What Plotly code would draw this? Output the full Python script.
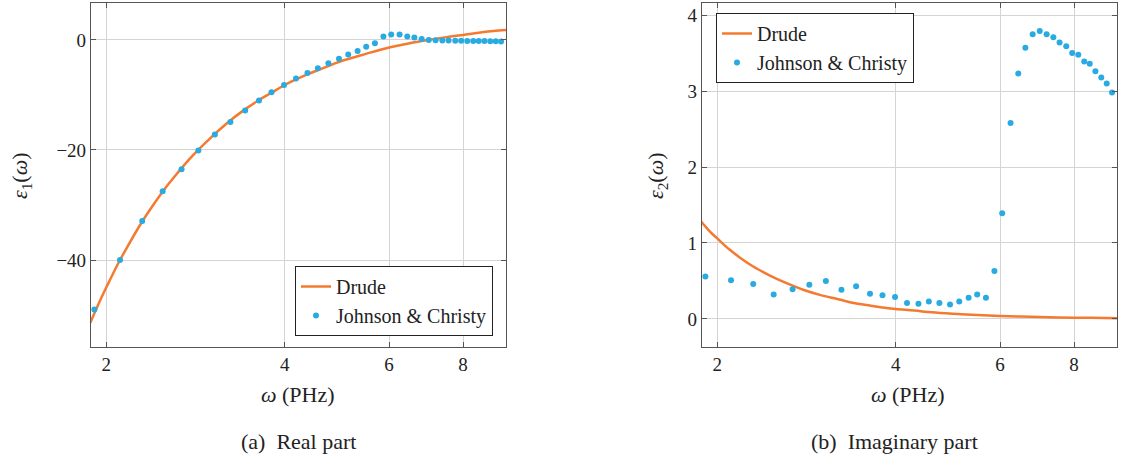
import plotly.graph_objects as go
import math

# Johnson & Christy measured points (omega in PHz)
omega_jc = [1.91, 2.11, 2.30, 2.49, 2.68, 2.86, 3.05, 3.24, 3.43, 3.62, 3.80, 3.99, 4.18, 4.37,
            4.55, 4.74, 4.94, 5.12, 5.31, 5.49, 5.68, 5.87, 6.05, 6.25, 6.44, 6.62, 6.81, 7.00,
            7.19, 7.38, 7.56, 7.76, 7.94, 8.13, 8.32, 8.50, 8.69, 8.89, 9.08, 9.27]
eps1_jc = [-49.0, -40.0, -32.9, -27.5, -23.5, -20.1, -17.2, -14.9, -12.85, -11.0, -9.5, -8.2,
           -7.0, -6.0, -5.15, -4.24, -3.45, -2.67, -2.0, -1.27, -0.6, 0.6, 0.97, 0.97, 0.6, 0.42,
           0.18, 0.0, -0.06, -0.12, -0.12, -0.18, -0.18, -0.2, -0.2, -0.22, -0.22, -0.24, -0.26, -0.28]
eps2_jc = [0.56, 0.51, 0.46, 0.32, 0.39, 0.45, 0.50, 0.385, 0.43, 0.33, 0.31, 0.29, 0.21, 0.20,
           0.23, 0.21, 0.19, 0.23, 0.28, 0.32, 0.28, 0.63, 1.39, 2.58, 3.23, 3.57, 3.75, 3.79,
           3.75, 3.71, 3.64, 3.59, 3.50, 3.48, 3.39, 3.36, 3.26, 3.18, 3.10, 2.98]

# Drude curve
omega_drude = [1.88, 1.95, 2.0, 2.1, 2.2, 2.3, 2.4, 2.5, 2.6, 2.8, 3.0, 3.2, 3.4, 3.6, 3.8, 4.0,
               4.3, 4.6, 5.0, 5.5, 6.0, 6.5, 7.0, 7.5, 8.0, 8.5, 9.0, 9.45]
eps1_drude = [-51.4, -47.5, -45.0, -40.4, -36.5, -33.0, -30.0, -27.3, -25.0, -21.0, -17.8, -15.1,
              -12.9, -11.1, -9.6, -8.2, -6.6, -5.3, -3.8, -2.5, -1.4, -0.6, 0.0, 0.5, 0.9, 1.3, 1.6, 1.8]
eps2_drude = [1.28, 1.14, 1.06, 0.91, 0.79, 0.69, 0.61, 0.54, 0.48, 0.38, 0.31, 0.26, 0.21, 0.18,
              0.15, 0.13, 0.11, 0.086, 0.067, 0.050, 0.039, 0.031, 0.024, 0.020, 0.016, 0.014,
              0.012, 0.010]

x_ticks = [2, 4, 6, 8]
y1_ticks = [0, -20, -40]
y2_ticks = [0, 1, 2, 3, 4]

ORANGE = "#F47A30"
BLUE = "#29ABE2"
FONT = "Liberation Serif, serif"
TXT = "#222222"
W, H = 1121, 463

fig = go.Figure()
fig.add_trace(go.Scatter(x=omega_drude, y=eps1_drude, mode="lines", name="Drude",
                         line=dict(color=ORANGE, width=2.5, shape="spline"),
                         xaxis="x", yaxis="y", legend="legend"))
fig.add_trace(go.Scatter(x=omega_jc, y=eps1_jc, mode="markers", name="Johnson &amp; Christy",
                         marker=dict(color=BLUE, size=6),
                         xaxis="x", yaxis="y", legend="legend"))
fig.add_trace(go.Scatter(x=omega_drude, y=eps2_drude, mode="lines", name="Drude",
                         line=dict(color=ORANGE, width=2.5, shape="spline"),
                         xaxis="x2", yaxis="y2", legend="legend2"))
fig.add_trace(go.Scatter(x=omega_jc, y=eps2_jc, mode="markers", name="Johnson &amp; Christy",
                         marker=dict(color=BLUE, size=6),
                         xaxis="x2", yaxis="y2", legend="legend2"))

def px_x(p):
    return p / W

def px_y(p):
    return 1 - p / H

ydom = [px_y(347), px_y(3)]
xr = [math.log10(1.885), math.log10(9.45)]
axis_common = dict(showgrid=True, gridcolor="#d4d4d4", gridwidth=1, showline=True,
                   linecolor="#555555", linewidth=1.2, mirror="ticks", ticks="inside",
                   ticklen=5, tickcolor="#555555", zeroline=False,
                   tickfont=dict(family=FONT, size=19, color=TXT))

fig.update_layout(
    width=W, height=H, margin=dict(l=0, r=0, t=0, b=0),
    paper_bgcolor="white", plot_bgcolor="white",
    font=dict(family=FONT, color=TXT),
    xaxis=dict(domain=[px_x(91), px_x(506)], type="log", range=xr, anchor="y",
               tickvals=x_ticks, ticktext=[str(v) for v in x_ticks], **axis_common),
    yaxis=dict(domain=ydom, range=[-55.8, 6.7], anchor="x", tickvals=y1_ticks,
               ticktext=["0", "\u221220", "\u221240"], **axis_common),
    xaxis2=dict(domain=[px_x(702), px_x(1117)], type="log", range=xr, anchor="y2",
                tickvals=x_ticks, ticktext=[str(v) for v in x_ticks], **axis_common),
    yaxis2=dict(domain=ydom, range=[-0.37, 4.16], anchor="x2", tickvals=y2_ticks,
                ticktext=[str(v) for v in y2_ticks], **axis_common),
    legend=dict(x=px_x(493), y=px_y(336), xanchor="right", yanchor="bottom",
                bgcolor="white", bordercolor=TXT, borderwidth=1,
                font=dict(family=FONT, size=20, color=TXT), tracegroupgap=0),
    legend2=dict(x=px_x(716), y=px_y(13), xanchor="left", yanchor="top",
                 bgcolor="white", bordercolor=TXT, borderwidth=1,
                 font=dict(family=FONT, size=20, color=TXT), tracegroupgap=0),
    showlegend=True,
)

ann_font = dict(family=FONT, size=22, color=TXT)
def ann(text, x, y, angle=0):
    return dict(text=text, x=px_x(x), y=px_y(y), xref="paper", yref="paper",
                xanchor="center", yanchor="middle", showarrow=False,
                textangle=angle, font=ann_font)

annotations = [
    ann("<i>ω</i> (PHz)", 298, 394),
    ann("<i>ω</i> (PHz)", 908, 394),
    ann("(a)  Real part", 298, 441),
    ann("(b)  Imaginary part", 894, 441),
    ann("<i>ε</i><sub>1</sub>(<i>ω</i>)", 21, 176, -90),
    ann("<i>ε</i><sub>2</sub>(<i>ω</i>)", 657, 176, -90),
]
fig.update_layout(annotations=annotations)

fig.write_html("out.html", config={"displayModeBar": False},
               post_script="document.body.style.margin='0px';")
